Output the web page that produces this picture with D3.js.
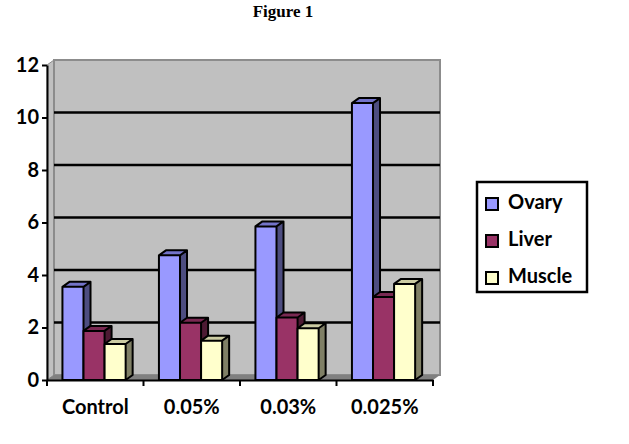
<!DOCTYPE html>
<html>
<head>
<meta charset="utf-8">
<script src="https://cdn.jsdelivr.net/npm/d3@7"></script>
<style>
  body { margin: 0; background: #fff; }
  text { font-family: Lato, "Open Sans", sans-serif; font-weight: bold; fill: #000; }
</style>
</head>
<body>
<div id="chart"></div>
<script>
// chart data
var categories = ["Control", "0.05%", "0.03%", "0.025%"];
var series = ["Ovary", "Liver", "Muscle"];
var ovary = [3.55, 4.75, 5.85, 10.55];
var liver = [1.87, 2.18, 2.38, 3.16];
var muscle = [1.37, 1.5, 1.97, 3.66];
var yTicks = [0, 2, 4, 6, 8, 10, 12];

var values = { Ovary: ovary, Liver: liver, Muscle: muscle };
var colors = {
  Ovary:  { front: "#9999ff", top: "#7373c9", side: "#4d4d80" },
  Liver:  { front: "#993366", top: "#7a2952", side: "#4d1a33" },
  Muscle: { front: "#ffffcc", top: "#cccca3", side: "#808066" }
};

var svgWidth = 629;
var svgHeight = 444;

// depth offset for the 3d look
var dx = 7;
var dy = 5;

var svg = d3.select("#chart")
  .append("svg")
  .attr("width", svgWidth)
  .attr("height", svgHeight);

var x0 = d3.scaleBand()
  .domain(categories)
  .range([47, 433]);

var x1 = d3.scaleBand()
  .domain(series)
  .range([x0.bandwidth() * 0.16, x0.bandwidth() * 0.815]);

var y = d3.scaleLinear()
  .domain([0, 12])
  .range([380, 65]);

var left = x0.range()[0], right = x0.range()[1];
var y0 = y(0), yTop = y(12);

// side wall
svg.append("polygon")
  .attr("points", [[left, y0], [left, yTop], [left + dx, yTop - dy], [left + dx, y0 - dy]].join(" "))
  .attr("fill", "#c0c0c0")
  .attr("stroke", "#8c8c8c")
  .attr("stroke-width", 1);

// back wall
svg.append("rect")
  .attr("x", left + dx)
  .attr("y", yTop - dy)
  .attr("width", right - left)
  .attr("height", y0 - yTop)
  .attr("fill", "#c0c0c0")
  .attr("stroke", "#8c8c8c")
  .attr("stroke-width", 2);

// floor
svg.append("polygon")
  .attr("points", [[left, y0], [left + dx, y0 - dy], [right + dx, y0 - dy], [right, y0]].join(" "))
  .attr("fill", "#808080");

// gridlines on the back wall
svg.append("g")
  .selectAll("line")
  .data(yTicks.filter(d => d > 0 && d < 12))
  .enter()
  .append("line")
  .attr("x1", left + dx)
  .attr("x2", right + dx)
  .attr("y1", d => y(d) - dy)
  .attr("y2", d => y(d) - dy)
  .attr("stroke", "#000")
  .attr("stroke-width", 2.5);

// bars
var groups = svg.append("g")
  .selectAll("g")
  .data(categories)
  .enter()
  .append("g")
  .attr("transform", d => `translate(${x0(d)}, 0)`);

groups.each(function(cat, i) {
  var g = d3.select(this);
  series.forEach(function(s) {
    var v = values[s][i];
    var bx = x1(s), bw = x1.bandwidth(), by = y(v);
    var c = colors[s];
    g.append("polygon")
      .attr("points", [[bx + bw, by], [bx + bw + dx, by - dy], [bx + bw + dx, y0 - dy], [bx + bw, y0]].join(" "))
      .attr("fill", c.side);
    g.append("polygon")
      .attr("points", [[bx, by], [bx + dx, by - dy], [bx + bw + dx, by - dy], [bx + bw, by]].join(" "))
      .attr("fill", c.top);
    g.append("rect")
      .attr("x", bx)
      .attr("y", by)
      .attr("width", bw)
      .attr("height", y0 - by)
      .attr("fill", c.front);
    // outline
    g.append("path")
      .attr("d", `M${bx},${y0}V${by}L${bx + dx},${by - dy}H${bx + bw + dx}V${y0 - dy}L${bx + bw},${y0}Z` +
        `M${bx},${by}H${bx + bw}V${y0}M${bx + bw},${by}L${bx + bw + dx},${by - dy}`)
      .attr("fill", "none")
      .attr("stroke", "#000")
      .attr("stroke-width", 2)
      .attr("stroke-linejoin", "round");
  });
});

// y axis
var yAxis = svg.append("g")
  .attr("transform", `translate(${left}, 0)`)
  .call(d3.axisLeft(y).tickValues(yTicks).tickSize(5).tickSizeOuter(0).tickPadding(3));
yAxis.selectAll("line, path").attr("stroke", "#000").attr("stroke-width", 2);
yAxis.selectAll("text").style("font-size", "20px").style("font-family", "Lato, sans-serif");

// x axis with labels centred in each band
var xAxis = svg.append("g")
  .attr("transform", `translate(0, ${y0})`)
  .call(d3.axisBottom(x0).tickSize(0).tickSizeOuter(0).tickPadding(20));
xAxis.select("path").attr("stroke", "#000").attr("stroke-width", 2);
xAxis.selectAll("text").style("font-size", "20px").style("font-family", "Lato, sans-serif");

// ticks between categories
svg.append("g")
  .selectAll("line")
  .data(categories.map(d => x0(d)).concat([right]))
  .enter()
  .append("line")
  .attr("x1", d => d)
  .attr("x2", d => d)
  .attr("y1", y0)
  .attr("y2", y0 + 6)
  .attr("stroke", "#000")
  .attr("stroke-width", 2);

// legend
var legend = svg.append("g");
legend.append("rect")
  .attr("x", 477)
  .attr("y", 182)
  .attr("width", 110)
  .attr("height", 110)
  .attr("fill", "#fff")
  .attr("stroke", "#000")
  .attr("stroke-width", 2.5);

var items = legend.selectAll("g.item")
  .data(series)
  .enter()
  .append("g")
  .attr("class", "item")
  .attr("transform", (d, i) => `translate(486, ${198 + i * 37})`);

items.append("rect")
  .attr("width", 12)
  .attr("height", 12)
  .attr("fill", d => colors[d].front)
  .attr("stroke", "#000")
  .attr("stroke-width", 2);

items.append("text")
  .attr("x", 22)
  .attr("y", 11)
  .style("font-size", "20px")
  .text(d => d);

// title
svg.append("text")
  .attr("x", 283)
  .attr("y", 17)
  .attr("text-anchor", "middle")
  .style("font-family", "'Liberation Serif', 'DejaVu Serif', serif")
  .style("font-size", "17px")
  .text("Figure 1");
</script>
</body>
</html>
